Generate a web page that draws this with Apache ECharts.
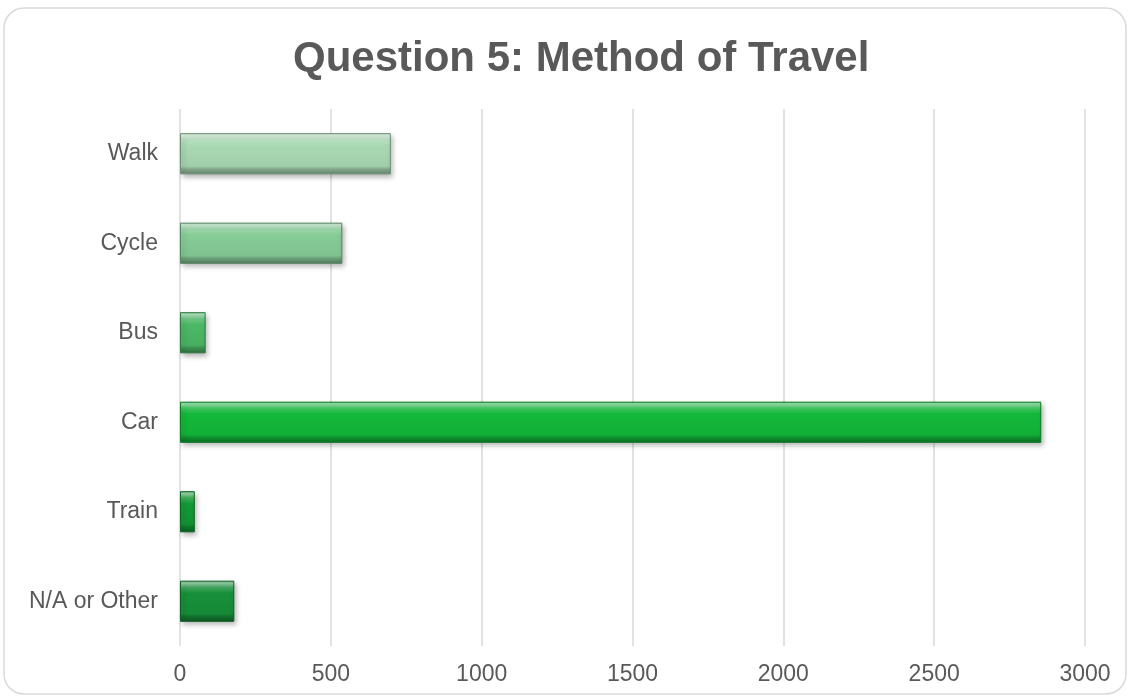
<!DOCTYPE html>
<html>
<head>
<meta charset="utf-8">
<script src="https://cdn.jsdelivr.net/npm/echarts@6/dist/echarts.min.js"></script>
<style>
  html, body { margin: 0; padding: 0; background: #ffffff; }
  #chart { width: 1131px; height: 697px; }
</style>
</head>
<body>
<div id="chart"></div>
<script>
// Survey answers: how respondents travel
const categories = ['N/A or Other', 'Train', 'Car', 'Bus', 'Cycle', 'Walk'];
const counts = [180, 49, 2855, 85, 538, 699];
const axisTicks = [0, 500, 1000, 1500, 2000, 2500, 3000];

// base colours per bar, from the darkest (bottom) to the palest (top)
const baseColors = ['#17903a', '#139a36', '#13b83a', '#4cb866', '#86cc97', '#a9d9b3'];

function shade(hex, amt) {
  const n = parseInt(hex.slice(1), 16);
  let r = (n >> 16) & 255, g = (n >> 8) & 255, b = n & 255;
  const f = v => Math.max(0, Math.min(255, Math.round(amt > 0 ? v + (255 - v) * amt : v * (1 + amt))));
  return 'rgb(' + f(r) + ',' + f(g) + ',' + f(b) + ')';
}

// vertical gradient giving each bar a bevelled look
function bevel(c) {
  return {
    type: 'linear', x: 0, y: 0, x2: 0, y2: 1,
    colorStops: [
      { offset: 0, color: shade(c, 0.3) },
      { offset: 0.06, color: shade(c, 0.55) },
      { offset: 0.16, color: shade(c, 0.2) },
      { offset: 0.3, color: c },
      { offset: 0.8, color: shade(c, -0.05) },
      { offset: 0.87, color: shade(c, -0.22) },
      { offset: 1, color: shade(c, -0.4) }
    ]
  };
}

const font = '"Liberation Sans", Arial, sans-serif';
const chart = echarts.init(document.getElementById('chart'));
chart.setOption({
  animation: false,
  backgroundColor: '#ffffff',
  graphic: [{
    type: 'rect',
    shape: { x: 4, y: 8, width: 1122, height: 686, r: 20 },
    style: { fill: 'none', stroke: '#d9d9d9', lineWidth: 1.5 },
    z: -1
  }],
  title: {
    text: 'Question 5: Method of Travel',
    left: 288,
    top: 33,
    textStyle: { fontFamily: font, fontSize: 42, fontWeight: 'bold', color: '#595959' }
  },
  grid: { left: 180, right: 46, top: 109, bottom: 51, containLabel: false },
  xAxis: {
    type: 'value',
    min: axisTicks[0],
    max: axisTicks[axisTicks.length - 1],
    interval: 500,
    axisLine: { show: false },
    axisTick: { show: false },
    splitLine: { show: true, lineStyle: { color: '#d9d9d9', width: 1.5 } },
    axisLabel: {
      margin: 17,
      formatter: v => String(v),
      fontFamily: font,
      fontSize: 23,
      color: '#595959'
    }
  },
  yAxis: {
    type: 'category',
    data: categories,
    axisLine: { show: false },
    axisTick: { show: false },
    axisLabel: { margin: 22, fontFamily: font, fontSize: 23, color: '#595959' }
  },
  series: [{
    type: 'bar',
    barCategoryGap: '54%',
    data: counts.map((v, i) => ({
      value: v,
      itemStyle: {
        color: bevel(baseColors[i]),
        borderColor: shade(baseColors[i], -0.35),
        borderWidth: 1,
        shadowColor: 'rgba(0,0,0,0.3)',
        shadowBlur: 5,
        shadowOffsetX: 2,
        shadowOffsetY: 3
      }
    }))
  }]
});
</script>
</body>
</html>
